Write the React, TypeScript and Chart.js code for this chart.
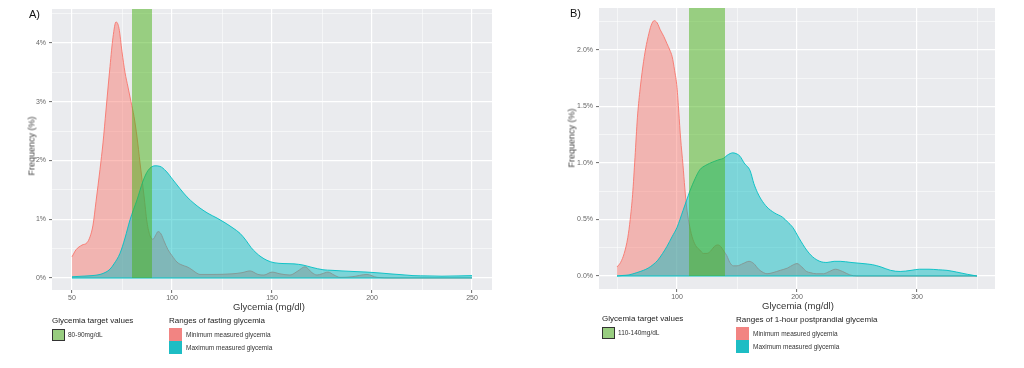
import React, { useEffect, useRef } from "react";
import { Chart, registerables } from "chart.js";

Chart.register(...registerables);

// ---------- Panel A: fasting glycemia ----------
const fastingMinX = [50, 52, 55, 57.5, 59, 60.5, 62, 64, 65.5, 67, 69, 70.5, 72, 73.5, 75, 76.5, 78, 79.5, 81, 82.5, 84, 86, 87.5, 89, 90.5, 92, 93, 94.5, 96, 98, 100, 102.5, 105, 107.5, 110, 112, 114, 120, 130, 135, 139, 143, 146, 150, 154, 159, 163, 166.5, 170, 172.5, 175, 178, 181, 184, 190, 197.5, 202.5, 210, 250];
const fastingMinY = [0.36, 0.48, 0.56, 0.6, 0.7, 0.9, 1.3, 1.85, 2.3, 2.86, 3.6, 4.1, 4.36, 4.25, 3.85, 3.5, 3.25, 3.0, 2.75, 2.4, 1.96, 1.4, 0.95, 0.72, 0.66, 0.74, 0.79, 0.75, 0.63, 0.48, 0.38, 0.27, 0.22, 0.19, 0.14, 0.09, 0.06, 0.06, 0.07, 0.09, 0.12, 0.06, 0.05, 0.1, 0.07, 0.05, 0.12, 0.19, 0.09, 0.05, 0.07, 0.1, 0.05, 0.01, 0.02, 0.06, 0.01, 0.0, 0.0];
const fastingMaxX = [50, 55, 60, 64, 67, 69, 71, 74, 76.5, 79, 82.5, 85.5, 88, 91.5, 94, 97, 100.5, 104, 107.5, 111, 114, 118, 122.5, 126.5, 130.5, 134, 137, 139.5, 142, 144.5, 147.5, 151, 156, 161, 165.5, 170, 175.5, 180, 185, 191, 197.5, 204, 209, 215, 220.5, 228, 235, 243, 250];
const fastingMaxY = [0.02, 0.03, 0.04, 0.06, 0.1, 0.15, 0.24, 0.42, 0.68, 0.99, 1.33, 1.65, 1.83, 1.91, 1.9, 1.82, 1.67, 1.52, 1.38, 1.27, 1.19, 1.1, 1.02, 0.94, 0.85, 0.76, 0.64, 0.52, 0.43, 0.36, 0.3, 0.26, 0.245, 0.24, 0.22, 0.18, 0.14, 0.13, 0.12, 0.11, 0.1, 0.085, 0.07, 0.055, 0.04, 0.035, 0.03, 0.035, 0.04];
const fastingTarget = [80, 90];
const fastingXTicks = [50, 75, 100, 125, 150, 175, 200, 225, 250];
const fastingXLabels = [50, 100, 150, 200, 250];
const fastingYTicks = [0, 0.5, 1, 1.5, 2, 2.5, 3, 3.5, 4, 4.5];
const fastingYLabels = [0, 1, 2, 3, 4];

// ---------- Panel B: 1-hour postprandial glycemia ----------
const postMinX = [50, 53, 56, 59, 61, 63, 65, 67, 69, 71.5, 74, 76, 78.5, 81, 83.5, 86, 89, 91.5, 94, 96, 98, 100, 101.5, 103, 105, 106.5, 108, 110, 112.5, 115.5, 119, 122, 125, 128, 131, 134, 136.5, 139, 141.5, 144, 147, 150, 155, 160, 164, 168, 172, 175, 180, 186, 192, 197, 200, 204, 208, 211, 216, 222, 227, 232, 238, 244, 250, 350];
const postMinY = [0.08, 0.12, 0.2, 0.34, 0.5, 0.72, 1.05, 1.4, 1.63, 1.85, 2.02, 2.12, 2.22, 2.26, 2.24, 2.18, 2.12, 2.06, 2.0, 1.94, 1.82, 1.67, 1.45, 1.22, 0.98, 0.78, 0.61, 0.47, 0.35, 0.27, 0.23, 0.2, 0.2, 0.22, 0.26, 0.275, 0.26, 0.22, 0.18, 0.12, 0.09, 0.09, 0.11, 0.13, 0.11, 0.06, 0.03, 0.02, 0.03, 0.05, 0.07, 0.1, 0.11, 0.08, 0.04, 0.03, 0.02, 0.02, 0.04, 0.06, 0.04, 0.01, 0.0, 0.0];
const postMaxX = [50, 55, 60, 66.5, 72, 76, 80, 84, 88, 91.5, 96, 100, 105, 108, 111, 115, 119, 124, 130, 135, 138.5, 142, 146.5, 150, 152.5, 156, 161, 164, 167, 170, 175, 181, 188, 192, 196.5, 202, 208, 213, 219, 225, 231, 236, 245, 255, 263, 270, 278, 286, 295, 302, 310, 318, 325, 333, 342, 350];
const postMaxY = [0.0, 0.005, 0.01, 0.03, 0.05, 0.07, 0.1, 0.14, 0.2, 0.26, 0.35, 0.43, 0.58, 0.67, 0.76, 0.86, 0.94, 0.98, 1.01, 1.03, 1.04, 1.07, 1.09, 1.08, 1.06, 1.0, 0.93, 0.82, 0.74, 0.68, 0.61, 0.56, 0.52, 0.48, 0.43, 0.33, 0.23, 0.17, 0.13, 0.12, 0.13, 0.13, 0.12, 0.11, 0.1, 0.08, 0.05, 0.04, 0.05, 0.06, 0.06, 0.055, 0.05, 0.035, 0.015, 0.0];
const postTarget = [110, 140];
const postXTicks = [50, 100, 150, 200, 250, 300, 350];
const postXLabels = [100, 200, 300];
const postYTicks = [0, 0.25, 0.5, 0.75, 1, 1.25, 1.5, 1.75, 2, 2.25];
const postYLabels = [0, 0.5, 1, 1.5, 2];

const FONT = "'Liberation Sans', Arial, sans-serif";
const PANEL_BG = "#EAEBEE";

type PanelSpec = {
  minX: number[]; minY: number[]; maxX: number[]; maxY: number[];
  target: number[];
  xTicks: number[]; xLabels: number[]; yTicks: number[]; yLabels: number[];
  xMin: number; xMax: number; yMin: number; yMax: number;
  yFmt: (v: number) => string;
  padding: { left: number; right: number; top: number; bottom: number };
};

const zip = (xs: number[], ys: number[]) => xs.map((x, i) => ({ x, y: ys[i] }));

const panelBg = {
  id: "panelBg",
  beforeDraw(chart: any) {
    const { ctx, chartArea: a } = chart;
    ctx.save();
    ctx.fillStyle = PANEL_BG;
    ctx.fillRect(a.left, a.top, a.right - a.left, a.bottom - a.top);
    ctx.restore();
  },
};

function buildConfig(p: PanelSpec): any {
  const gridOpts = (labels: number[]) => ({
    color: "#FFFFFF",
    lineWidth: (c: any) => (c.tick && labels.includes(c.tick.value) ? 1.2 : 0.55),
    tickColor: (c: any) => (c.tick && labels.includes(c.tick.value) ? "#444" : "rgba(0,0,0,0)"),
    tickLength: 3,
    tickWidth: 0.8,
    drawTicks: true,
  });
  return {
    type: "line",
    data: {
      datasets: [
        {
          label: "target",
          data: [{ x: p.target[0], y: p.yMax }, { x: p.target[1], y: p.yMax }],
          fill: "origin",
          backgroundColor: "rgba(69,178,20,0.5)",
          borderWidth: 0,
          borderColor: "rgba(0,0,0,0)",
          pointRadius: 0,
          tension: 0,
        },
        {
          label: "max-base",
          data: [{ x: p.maxX[0], y: 0 }, { x: p.maxX[p.maxX.length - 1], y: 0 }],
          fill: false,
          borderColor: "#00BFC4",
          borderWidth: 1.1,
          pointRadius: 0,
          tension: 0,
        },
        {
          label: "Maximum measured glycemia",
          data: zip(p.maxX, p.maxY),
          fill: "origin",
          backgroundColor: "rgba(0,186,192,0.47)",
          borderColor: "#00BFC4",
          borderWidth: 0.9,
          pointRadius: 0,
          cubicInterpolationMode: "monotone",
        },
        {
          label: "Minimum measured glycemia",
          data: zip(p.minX, p.minY),
          fill: "origin",
          backgroundColor: "rgba(248,118,109,0.47)",
          borderColor: "#F8766D",
          borderWidth: 0.9,
          pointRadius: 0,
          cubicInterpolationMode: "monotone",
        },
      ],
    },
    options: {
      animation: false,
      responsive: false,
      maintainAspectRatio: false,
      layout: { padding: p.padding },
      plugins: {
        legend: { display: false },
        tooltip: { enabled: false },
        title: { display: false },
        filler: { propagate: false },
      },
      scales: {
        x: {
          type: "linear",
          min: p.xMin,
          max: p.xMax,
          afterBuildTicks: (s: any) => {
            s.ticks = p.xTicks.map((v) => ({ value: v }));
          },
          afterFit: (s: any) => {
            s.height = 20;
          },
          border: { display: false },
          grid: gridOpts(p.xLabels),
          ticks: {
            autoSkip: false,
            maxRotation: 0,
            padding: 1,
            color: "#666",
            font: { family: FONT, size: 7 },
            callback: (v: number) => (p.xLabels.includes(v) ? String(v) : ""),
          },
        },
        y: {
          type: "linear",
          min: p.yMin,
          max: p.yMax,
          afterBuildTicks: (s: any) => {
            s.ticks = p.yTicks.map((v) => ({ value: v }));
          },
          afterFit: (s: any) => {
            s.width = 40;
          },
          border: { display: false },
          grid: gridOpts(p.yLabels),
          ticks: {
            autoSkip: false,
            padding: 3,
            color: "#666",
            font: { family: FONT, size: 7 },
            callback: (v: number) => (p.yLabels.includes(v) ? p.yFmt(v) : ""),
          },
        },
      },
    },
    plugins: [panelBg],
  };
}

const panelA: PanelSpec = {
  minX: fastingMinX, minY: fastingMinY, maxX: fastingMaxX, maxY: fastingMaxY,
  target: fastingTarget,
  xTicks: fastingXTicks, xLabels: fastingXLabels, yTicks: fastingYTicks, yLabels: fastingYLabels,
  xMin: 40, xMax: 260, yMin: -0.205, yMax: 4.58,
  yFmt: (v) => `${v}%`,
  padding: { left: 12, right: 20, top: 9, bottom: 58 },
};

const panelB: PanelSpec = {
  minX: postMinX, minY: postMinY, maxX: postMaxX, maxY: postMaxY,
  target: postTarget,
  xTicks: postXTicks, xLabels: postXLabels, yTicks: postYTicks, yLabels: postYLabels,
  xMin: 35, xMax: 365, yMin: -0.115, yMax: 2.372,
  yFmt: (v) => `${v.toFixed(1)}%`,
  padding: { left: 47, right: 29, top: 8, bottom: 59 },
};

function PanelChart({ spec, left }: { spec: PanelSpec; left: number }) {
  const ref = useRef<HTMLCanvasElement>(null);
  useEffect(() => {
    const chart = new Chart(ref.current as HTMLCanvasElement, buildConfig(spec));
    return () => chart.destroy();
  }, []);
  return (
    <canvas
      ref={ref}
      width={512}
      height={368}
      style={{ position: "absolute", left, top: 0, width: 512, height: 368 }}
    />
  );
}

function Txt({ x, y, size, color = "#333", center = false, children }: any) {
  return (
    <div
      style={{
        position: "absolute",
        left: x,
        top: y,
        fontFamily: FONT,
        fontSize: size,
        color,
        lineHeight: 1,
        whiteSpace: "nowrap",
        transform: center ? "translate(-50%,-50%)" : "translateY(-50%)",
      }}
    >
      {children}
    </div>
  );
}

function VTxt({ x, y, size, children }: any) {
  return (
    <div
      style={{
        position: "absolute",
        left: x,
        top: y,
        fontFamily: FONT,
        fontSize: size,
        fontWeight: 400,
        color: "#3a3a3a",
        lineHeight: 1,
        whiteSpace: "nowrap",
        transform: "translate(-50%,-50%) rotate(-90deg)",
      }}
    >
      {children}
    </div>
  );
}

function Box({ x, y, w, h, fill, border }: any) {
  return (
    <div
      style={{
        position: "absolute",
        left: x,
        top: y,
        width: w,
        height: h,
        background: fill,
        boxSizing: "border-box",
        border: border ? `1px solid ${border}` : "none",
      }}
    />
  );
}

function Legend({ x1, y1, label1, x2, y2, title2 }: any) {
  return (
    <>
      <Txt x={x1} y={y1} size={8} color="#222">Glycemia target values</Txt>
      <Box x={x1} y={y1 + 8} w={13} h={12} fill="#98CD80" border="#333" />
      <Txt x={x1 + 16} y={y1 + 14} size={6.5}>{label1}</Txt>
      <Txt x={x2} y={y2} size={8} color="#222">{title2}</Txt>
      <Box x={x2} y={y2 + 7} w={13} h={13} fill="#F28482" />
      <Box x={x2} y={y2 + 20} w={13} h={13} fill="#1DBDC4" />
      <Txt x={x2 + 17} y={y2 + 14} size={6.5}>Minimum measured glycemia</Txt>
      <Txt x={x2 + 17} y={y2 + 27} size={6.5}>Maximum measured glycemia</Txt>
    </>
  );
}

export default function App() {
  return (
    <div style={{ position: "absolute", left: 0, top: 0, width: 1024, height: 368, background: "#fff", overflow: "hidden" }}>
      <PanelChart spec={panelA} left={0} />
      <PanelChart spec={panelB} left={512} />

      <Txt x={29} y={14} size={11} color="#111">A)</Txt>
      <Txt x={570} y={13} size={11} color="#111">B)</Txt>

      <VTxt x={32} y={146} size={9}>Frequency (%)</VTxt>
      <VTxt x={572} y={138} size={9}>Frequency (%)</VTxt>

      <Txt x={269} y={307} size={9.5} center>Glycemia (mg/dl)</Txt>
      <Txt x={798} y={306} size={9.5} center>Glycemia (mg/dl)</Txt>

      <Legend x1={52} y1={321} label1="80-90mg/dL" x2={169} y2={321} title2="Ranges of fasting glycemia" />
      <Legend x1={602} y1={319} label1="110-140mg/dL" x2={736} y2={320} title2="Ranges of 1-hour postprandial glycemia" />
    </div>
  );
}
